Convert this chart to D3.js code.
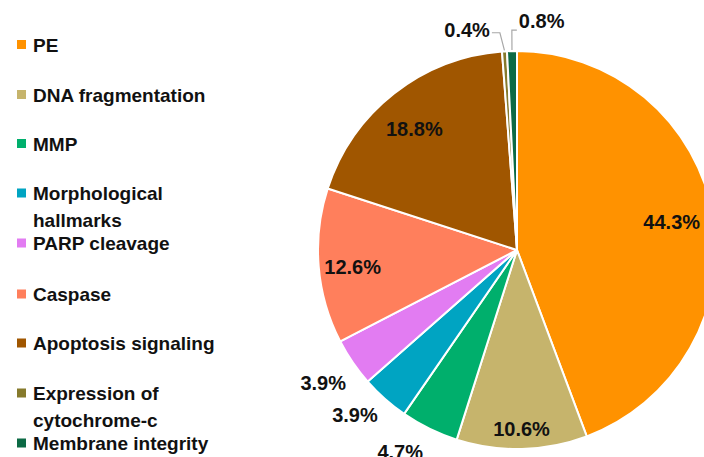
<!DOCTYPE html>
<html>
<head>
<meta charset="utf-8">
<script src="https://cdn.jsdelivr.net/npm/d3@7"></script>
<style>
  html, body { margin: 0; padding: 0; background: #fff; }
  svg { display: block; }
  text { font-family: "Liberation Sans", Arial, sans-serif; font-weight: bold; fill: #111; }
</style>
</head>
<body>
<svg id="chart" width="704" height="457"></svg>
<script>
// ---- data ----
const categories = ["PE", "DNA fragmentation", "MMP", "Morphological hallmarks", "PARP cleavage",
                    "Caspase", "Apoptosis signaling", "Expression of cytochrome-c", "Membrane integrity"];
const legendLines = [["PE"], ["DNA fragmentation"], ["MMP"], ["Morphological", "hallmarks"], ["PARP cleavage"],
                     ["Caspase"], ["Apoptosis signaling"], ["Expression of", "cytochrome-c"], ["Membrane integrity"]];
const values = [44.3, 10.6, 4.7, 3.9, 3.9, 12.6, 18.8, 0.4, 0.8];
const labels = ["44.3%", "10.6%", "4.7%", "3.9%", "3.9%", "12.6%", "18.8%", "0.4%", "0.8%"];
const colors = ["#FF9200", "#C6B46C", "#00AF6C", "#00A4C2", "#E27CF2", "#FF7F5C", "#A05600", "#867A2C", "#0C6A45"];

// ---- layout ----
const svg = d3.select("#chart");
const cx = 517, cy = 250, R = 199;

// label placement (layout only): mode, radius factor, angle shift (deg)
const labelLayout = [
  {mode: "in", k: 0.79, da: 0},
  {mode: "in", k: 0.90, da: 0},
  {mode: "out", k: 1.17, da: 4},
  {mode: "out", k: 1.16, da: 3},
  {mode: "out", k: 1.18, da: 0},
  {mode: "in", k: 0.83, da: -1},
  {mode: "in", k: 0.80, da: -2},
  {mode: "leader", side: -1, elbowK: 1.095, da: -0.9, len: 8, ty: -3},
  {mode: "leader", side: 1, elbowK: 1.105, da: 0.1, len: 5, ty: -9}
];

const pie = d3.pie().sort(null).value(d => d).startAngle(0).endAngle(2 * Math.PI);
const arcs = pie(values);
const arc = d3.arc().innerRadius(0).outerRadius(R);

const g = svg.append("g").attr("transform", `translate(${cx},${cy})`);

g.selectAll("path.slice")
  .data(arcs)
  .join("path")
  .attr("class", "slice")
  .attr("d", arc)
  .attr("fill", (d, i) => colors[i])
  .attr("stroke", "#fff")
  .attr("stroke-width", 2)
  .attr("stroke-linejoin", "round");

function polar(angle, r) {
  return [Math.sin(angle) * r, -Math.cos(angle) * r];
}

arcs.forEach((d, i) => {
  const L = labelLayout[i];
  const mid = (d.startAngle + d.endAngle) / 2;
  if (L.mode === "in" || L.mode === "out") {
    const [x, y] = polar(mid + L.da * Math.PI / 180, R * L.k);
    g.append("text")
      .attr("x", x).attr("y", y)
      .attr("dy", "0.36em")
      .attr("text-anchor", "middle")
      .style("font-size", "20px")
      .text(labels[i]);
  } else {
    const p0 = polar(mid, R + 1);
    const p1 = polar(mid + L.da * Math.PI / 180, R * L.elbowK);
    const p2 = [p1[0] + L.side * L.len, p1[1]];
    g.append("path")
      .attr("d", d3.line()([p0, p1, p2]))
      .attr("fill", "none")
      .attr("stroke", "#a8a8a8")
      .attr("stroke-width", 1.2);
    g.append("text")
      .attr("x", p2[0] + L.side * 2)
      .attr("y", p2[1] + L.ty)
      .attr("dy", "0.36em")
      .attr("text-anchor", L.side < 0 ? "end" : "start")
      .style("font-size", "20px")
      .text(labels[i]);
  }
});

// ---- legend ----
const legendBaselines = [51.5, 101.5, 150.5, 200, 250, 301, 350, 400, 450];
const legend = svg.append("g");
categories.forEach((c, i) => {
  const yb = legendBaselines[i];
  legend.append("rect")
    .attr("x", 17).attr("y", yb - 11.5)
    .attr("width", 9).attr("height", 9)
    .attr("fill", colors[i]);
  const t = legend.append("text")
    .attr("x", 33).attr("y", yb)
    .style("font-size", "19px");
  legendLines[i].forEach((line, j) => {
    t.append("tspan").attr("x", 33).attr("y", yb + j * 26.5).text(line);
  });
});
</script>
</body>
</html>
